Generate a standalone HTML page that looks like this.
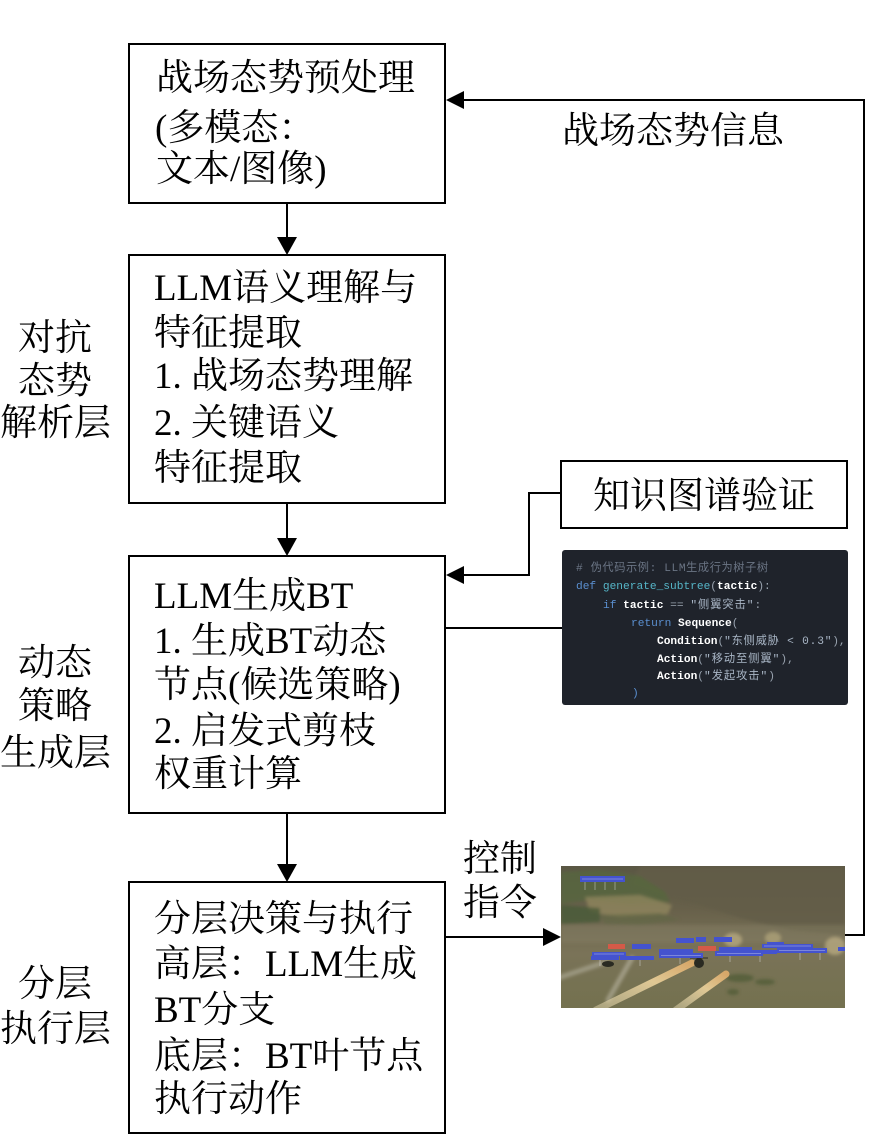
<!DOCTYPE html>
<html>
<head>
<meta charset="utf-8">
<style>
html,body{margin:0;padding:0;background:#fff;}
body{width:893px;height:1134px;position:relative;overflow:hidden;}
.t{position:absolute;font-family:"Liberation Serif","Noto Serif CJK SC",serif;font-size:37px;line-height:37px;color:#000;white-space:nowrap;}
.c{text-align:center;width:110px;left:0;}
.box{position:absolute;border:2px solid #000;box-sizing:border-box;background:#fff;}
svg{position:absolute;left:0;top:0;}
</style>
</head>
<body>
<svg width="893" height="1134" viewBox="0 0 893 1134">
  <defs>
    <clipPath id="gclip"><rect x="561" y="866" width="284" height="142"/></clipPath>
    <linearGradient id="gbg" x1="0" y1="0" x2="0" y2="1">
      <stop offset="0" stop-color="#5a5744"/>
      <stop offset="0.3" stop-color="#67604a"/>
      <stop offset="0.5" stop-color="#756e54"/>
      <stop offset="0.62" stop-color="#7a7358"/>
      <stop offset="0.75" stop-color="#777254"/>
      <stop offset="1" stop-color="#74714f"/>
    </linearGradient>
    <linearGradient id="trail1" x1="0" y1="1" x2="1" y2="0">
      <stop offset="0" stop-color="#e8dcb4" stop-opacity="0.5"/>
      <stop offset="0.6" stop-color="#ecd29c"/>
      <stop offset="1" stop-color="#e2ae6c"/>
    </linearGradient>
    <filter id="blur1"><feGaussianBlur stdDeviation="1.5"/></filter>
  </defs>

  <!-- Game screenshot -->
  <g clip-path="url(#gclip)">
    <rect x="561" y="866" width="284" height="142" fill="url(#gbg)"/>
    <g filter="url(#blur1)">
    <!-- right hills -->
    <polygon points="640,866 845,866 845,935 790,930 740,918 700,905 660,896 630,885" fill="#625c47" opacity="0.8"/>
    <!-- left green fields -->
    <polygon points="561,872 600,870 640,876 665,892 670,902 630,904 590,900 561,904" fill="#56663f" opacity="0.8"/>
    <polygon points="585,897 640,895 672,905 668,914 620,917 590,912" fill="#968a60" opacity="0.7"/>
    <polygon points="561,905 600,908 600,922 561,924" fill="#475a38" opacity="0.8"/>
    <polygon points="600,915 660,913 680,920 640,925 605,924" fill="#5f6843" opacity="0.6"/>
    <!-- valley -->
    <rect x="561" y="925" width="284" height="18" fill="#837c62" opacity="0.5"/>
    <!-- dust clouds -->
    <ellipse cx="733" cy="940" rx="9" ry="7" fill="#c9bb8c" opacity="0.6"/>
    <ellipse cx="773" cy="938" rx="8" ry="6" fill="#c9bb8c" opacity="0.5"/>
    <ellipse cx="835" cy="946" rx="10" ry="9" fill="#cbbd8e" opacity="0.6"/>
    <!-- trees bottom -->
    <ellipse cx="740" cy="978" rx="14" ry="4" fill="#4b5a35" opacity="0.7"/>
    <ellipse cx="765" cy="982" rx="10" ry="3" fill="#4b5a35" opacity="0.7"/>
    <ellipse cx="733" cy="992" rx="6" ry="3" fill="#4b5a35" opacity="0.7"/>
    <!-- gray trails -->
    <line x1="558" y1="978" x2="606" y2="962" stroke="#b9b5a2" stroke-width="5" stroke-linecap="round" opacity="0.55"/>
    <line x1="608" y1="1000" x2="632" y2="958" stroke="#bfbba8" stroke-width="5" stroke-linecap="round" opacity="0.55"/>
    </g>
    <!-- bright trails -->
    <line x1="596" y1="1010" x2="692" y2="963" stroke="url(#trail1)" stroke-width="7" stroke-linecap="round" opacity="0.9"/>
    <line x1="676" y1="1010" x2="726" y2="974" stroke="url(#trail1)" stroke-width="7" stroke-linecap="round" opacity="0.9"/>
    <!-- helicopters -->
    <ellipse cx="608" cy="964" rx="6" ry="3" fill="#2a2a22"/>
    <ellipse cx="699" cy="963" rx="5" ry="5" fill="#2a2a22"/>
    <line x1="690" y1="958" x2="708" y2="958" stroke="#2a2a22" stroke-width="1"/>
    <!-- labels -->
    <g fill="#4453cf">
      <rect x="580" y="876" width="45" height="6"/>
      <rect x="632" y="944" width="19" height="5"/>
      <rect x="592" y="952" width="34" height="4"/>
      <rect x="591" y="956" width="28" height="4"/>
      <rect x="620" y="956" width="34" height="4"/>
      <rect x="659" y="949" width="34" height="4"/>
      <rect x="659" y="953" width="44" height="5"/>
      <rect x="676" y="938" width="18" height="5"/>
      <rect x="696" y="937" width="10" height="5"/>
      <rect x="714" y="937" width="18" height="5"/>
      <rect x="719" y="947" width="33" height="4"/>
      <rect x="715" y="951" width="48" height="5"/>
      <rect x="752" y="950" width="25" height="4"/>
      <rect x="767" y="942" width="17" height="4"/>
      <rect x="762" y="944" width="51" height="4"/>
      <rect x="777" y="948" width="50" height="5"/>
      <rect x="838" y="947" width="7" height="4"/>
    </g>
    <g fill="#d45a48">
      <rect x="608" y="944" width="17" height="5"/>
      <rect x="698" y="946" width="18" height="5"/>
    </g>
    <g stroke="#e8e8f0" stroke-width="0.6" opacity="0.7">
      <line x1="582" y1="879" x2="623" y2="879"/>
      <line x1="594" y1="954" x2="624" y2="954"/>
      <line x1="661" y1="955.5" x2="701" y2="955.5"/>
      <line x1="717" y1="953.5" x2="761" y2="953.5"/>
      <line x1="779" y1="950.5" x2="825" y2="950.5"/>
      <line x1="764" y1="946" x2="811" y2="946"/>
      <line x1="585" y1="882" x2="585" y2="890"/>
      <line x1="595" y1="882" x2="595" y2="890"/>
      <line x1="605" y1="882" x2="605" y2="890"/>
      <line x1="615" y1="882" x2="615" y2="890"/>
      <line x1="600" y1="960" x2="600" y2="966"/>
      <line x1="640" y1="960" x2="640" y2="966"/>
      <line x1="680" y1="958" x2="680" y2="964"/>
      <line x1="730" y1="956" x2="730" y2="962"/>
      <line x1="760" y1="956" x2="760" y2="962"/>
      <line x1="800" y1="953" x2="800" y2="960"/>
      <line x1="820" y1="953" x2="820" y2="960"/>
    </g>
  </g>

  <!-- Code block -->
  <rect x="562" y="550" width="286" height="155" rx="3" fill="#1f232b"/>
  <g font-family="'Liberation Mono','Noto Sans CJK SC',monospace" font-size="11.2">
    <text x="576" y="571" fill="#6b7585" letter-spacing="0.6"># 伪代码示例: LLM生成行为树子树</text>
    <text x="576" y="589" fill="#9aa4b0"><tspan fill="#5a8fd0">def</tspan> <tspan fill="#56b6c8">generate_subtree</tspan>(<tspan fill="#ffffff" font-weight="bold">tactic</tspan>):</text>
    <text x="603" y="608" fill="#9aa4b0"><tspan fill="#5a8fd0">if</tspan> <tspan fill="#ffffff" font-weight="bold">tactic</tspan> == <tspan fill="#a9b6c6" letter-spacing="1">"侧翼突击"</tspan>:</text>
    <text x="631" y="626" fill="#9aa4b0"><tspan fill="#5a8fd0">return</tspan> <tspan fill="#ffffff" font-weight="bold">Sequence</tspan>(</text>
    <text x="657" y="644" fill="#9aa4b0"><tspan fill="#ffffff" font-weight="bold">Condition</tspan>(<tspan fill="#a9b6c6" letter-spacing="0.8">"东侧威胁 &lt; 0.3"</tspan>),</text>
    <text x="657" y="662" fill="#9aa4b0"><tspan fill="#ffffff" font-weight="bold">Action</tspan>(<tspan fill="#a9b6c6" letter-spacing="1">"移动至侧翼"</tspan>),</text>
    <text x="657" y="679" fill="#9aa4b0"><tspan fill="#ffffff" font-weight="bold">Action</tspan>(<tspan fill="#a9b6c6" letter-spacing="1">"发起攻击"</tspan>)</text>
    <text x="632" y="696" fill="#5a8fd0">)</text>
  </g>

  <!-- connectors -->
  <g stroke="#000" stroke-width="2" fill="none">
    <line x1="287" y1="203" x2="287" y2="238"/>
    <line x1="287" y1="503" x2="287" y2="539"/>
    <line x1="287" y1="813" x2="287" y2="865"/>
    <polyline points="845,935 864,935 864,100 462,100"/>
    <polyline points="560,493 529,493 529,575 462,575"/>
    <line x1="445" y1="628" x2="562" y2="628"/>
    <line x1="445" y1="937" x2="545" y2="937"/>
  </g>
  <g fill="#000">
    <polygon points="277,237 297,237 287,255"/>
    <polygon points="277,538 297,538 287,556"/>
    <polygon points="277,864 297,864 287,882"/>
    <polygon points="446,100 464,91 464,109"/>
    <polygon points="446,575 464,566 464,584"/>
    <polygon points="561,937 543,928 543,946"/>
  </g>
</svg>

<div class="box" style="left:128px;top:43px;width:318px;height:161px;"></div>
<div class="box" style="left:128px;top:254px;width:318px;height:250px;"></div>
<div class="box" style="left:128px;top:555px;width:318px;height:259px;"></div>
<div class="box" style="left:128px;top:881px;width:318px;height:253px;"></div>
<div class="box" style="left:560px;top:460px;width:288px;height:69px;"></div>

<!-- Box 1 -->
<div class="t" style="left:156px;top:60px;">战场态势预处理</div>
<div class="t" style="left:155px;top:110px;">(多模态：</div>
<div class="t" style="left:156px;top:151px;">文本/图像)</div>

<!-- Box 2 -->
<div class="t" style="left:154px;top:270px;">LLM语义理解与</div>
<div class="t" style="left:154px;top:315px;">特征提取</div>
<div class="t" style="left:154px;top:358px;">1. 战场态势理解</div>
<div class="t" style="left:154px;top:405px;">2. 关键语义</div>
<div class="t" style="left:154px;top:450px;">特征提取</div>

<!-- Box 3 -->
<div class="t" style="left:154px;top:578px;">LLM生成BT</div>
<div class="t" style="left:154px;top:623px;">1. 生成BT动态</div>
<div class="t" style="left:154px;top:667px;">节点(候选策略)</div>
<div class="t" style="left:154px;top:713px;">2. 启发式剪枝</div>
<div class="t" style="left:154px;top:756px;">权重计算</div>

<!-- Box 4 -->
<div class="t" style="left:154px;top:901px;">分层决策与执行</div>
<div class="t" style="left:154px;top:946px;">高层：LLM生成</div>
<div class="t" style="left:154px;top:992px;">BT分支</div>
<div class="t" style="left:154px;top:1038px;">底层：BT叶节点</div>
<div class="t" style="left:154px;top:1081px;">执行动作</div>

<!-- Left labels -->
<div class="t c" style="top:320px;">对抗</div>
<div class="t c" style="top:363px;">态势</div>
<div class="t c" style="top:405px;">解析层</div>
<div class="t c" style="top:645px;">动态</div>
<div class="t c" style="top:688px;">策略</div>
<div class="t c" style="top:735px;">生成层</div>
<div class="t c" style="top:966px;">分层</div>
<div class="t c" style="top:1011px;">执行层</div>

<!-- Right labels -->
<div class="t" style="left:562px;top:113px;">战场态势信息</div>
<div class="t" style="left:593px;top:478px;">知识图谱验证</div>
<div class="t" style="left:463px;top:841px;">控制</div>
<div class="t" style="left:463px;top:885px;">指令</div>
</body>
</html>
